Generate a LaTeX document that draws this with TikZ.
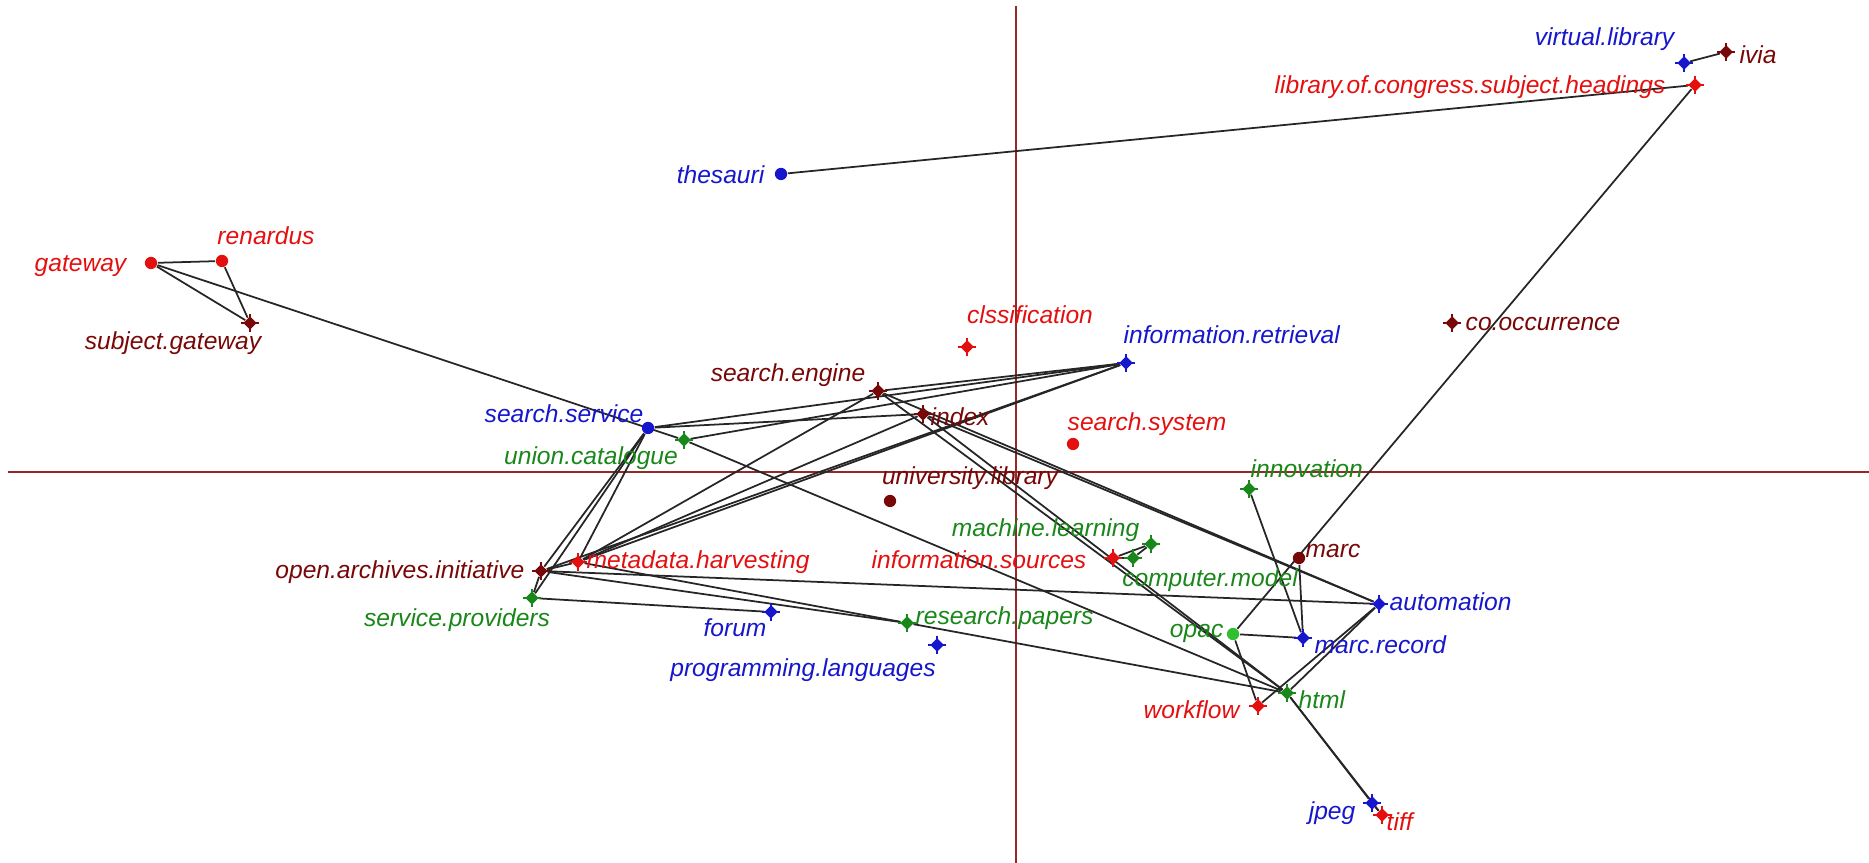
\documentclass[tikz,border=0pt]{standalone}
\usepackage{fontspec}
\setmainfont{Liberation Sans}
\usetikzlibrary{shapes.geometric, backgrounds}

\definecolor{ptred}{RGB}{228,16,16}
\definecolor{ptmaroon}{RGB}{120,8,8}
\definecolor{ptblue}{RGB}{22,22,205}
\definecolor{ptgreen}{RGB}{25,135,25}
\definecolor{ptlime}{RGB}{50,190,50}
\definecolor{axisred}{RGB}{150,40,40}

\begin{document}
\begin{tikzpicture}[x=0.1mm, y=-0.1mm,
  dot/.style={circle, fill=#1, inner sep=0pt, minimum size=3.5pt},
  dmd/.style={diamond, fill=#1, inner sep=0pt, minimum size=4pt},
  lbl/.style={text=#1, inner sep=0pt, font=\fontsize{7pt}{8pt}\selectfont\itshape},
  edge/.style={black!85, line width=0.5pt}]

\useasboundingbox (0,0) rectangle (1869,863);

% round points
\node[dot=ptblue] (thesauri) at (781,174) {};
\node[dot=ptred] (gateway) at (151,263) {};
\node[dot=ptred] (renardus) at (222,261) {};
\node[dot=ptblue] (searchservice) at (648,428) {};
\node[dot=ptred] (searchsystem) at (1073,444) {};
\node[dot=ptmaroon] (univlibrary) at (890,501) {};
\node[dot=ptmaroon] (marc) at (1299,558) {};
\node[dot=ptlime] (opac) at (1233,634) {};

% diamond points
\node[dmd=ptblue] (virtlibrary) at (1684,63) {};
\node[dmd=ptmaroon] (ivia) at (1726,52) {};
\node[dmd=ptred] (lcsh) at (1695,85) {};
\node[dmd=ptmaroon] (subjgateway) at (250,323) {};
\node[dmd=ptred] (clssification) at (967,347) {};
\node[dmd=ptblue] (inforetrieval) at (1126,363) {};
\node[dmd=ptmaroon] (cooccurrence) at (1452,323) {};
\node[dmd=ptmaroon] (searchengine) at (878,391) {};
\node[dmd=ptmaroon] (index) at (923,414) {};
\node[dmd=ptgreen] (unioncat) at (684,440) {};
\node[dmd=ptgreen] (innovation) at (1249,489) {};
\node[dmd=ptgreen] (machlearning) at (1151,544) {};
\node[dmd=ptred] (infosources) at (1113,558) {};
\node[dmd=ptgreen] (compmodel) at (1133,558) {};
\node[dmd=ptmaroon] (oai) at (541,571) {};
\node[dmd=ptred] (metaharvest) at (578,562) {};
\node[dmd=ptblue] (automation) at (1379,604) {};
\node[dmd=ptgreen] (serviceprov) at (532,598) {};
\node[dmd=ptblue] (forum) at (771,612) {};
\node[dmd=ptgreen] (respapers) at (907,623) {};
\node[dmd=ptblue] (proglang) at (937,645) {};
\node[dmd=ptblue] (marcrecord) at (1303,638) {};
\node[dmd=ptgreen] (html) at (1287,693) {};
\node[dmd=ptred] (workflow) at (1258,706) {};
\node[dmd=ptblue] (jpeg) at (1372,803) {};
\node[dmd=ptred] (tiff) at (1382,815) {};

% little cross on every diamond
\foreach \n/\c in {virtlibrary/ptblue, ivia/ptmaroon, lcsh/ptred, subjgateway/ptmaroon,
    clssification/ptred, inforetrieval/ptblue, cooccurrence/ptmaroon, searchengine/ptmaroon,
    index/ptmaroon, unioncat/ptgreen, innovation/ptgreen, machlearning/ptgreen,
    infosources/ptred, compmodel/ptgreen, oai/ptmaroon, metaharvest/ptred,
    automation/ptblue, serviceprov/ptgreen, forum/ptblue, respapers/ptgreen,
    proglang/ptblue, marcrecord/ptblue, html/ptgreen, workflow/ptred, jpeg/ptblue, tiff/ptred}
  \draw[\c, line width=0.6pt] ([xshift=-2.5pt]\n.center) -- ([xshift=2.5pt]\n.center)
    ([yshift=-2.5pt]\n.center) -- ([yshift=2.5pt]\n.center);

% labels
\node[lbl=ptblue, anchor=east] (thesauri-l) at (765,175) {thesauri};
\node[lbl=ptblue, anchor=east] (virtlibrary-l) at (1675,39) {virtual.library};
\node[lbl=ptmaroon, anchor=west] (ivia-l) at (1739,55) {ivia};
\node[lbl=ptred, anchor=east] (lcsh-l) at (1666,87) {library.of.congress.subject.headings};
\node[lbl=ptred, anchor=east] (gateway-l) at (127,266) {gateway};
\node[lbl=ptred] (renardus-l) at (266,236) {renardus};
\node[lbl=ptmaroon] (subjgateway-l) at (173,343) {subject.gateway};
\node[lbl=ptred] (clssification-l) at (1030,315) {clssification};
\node[lbl=ptblue, anchor=west] (inforetrieval-l) at (1123,335) {information.retrieval};
\node[lbl=ptmaroon, anchor=west] (cooccurrence-l) at (1465,324) {co.occurrence};
\node[lbl=ptmaroon, anchor=east] (searchengine-l) at (866,375) {search.engine};
\node[lbl=ptmaroon, anchor=west] (index-l) at (930,417) {index};
\node[lbl=ptblue, anchor=east] (searchservice-l) at (644,414) {search.service};
\node[lbl=ptgreen] (unioncat-l) at (591,458) {union.catalogue};
\node[lbl=ptred, anchor=west] (searchsystem-l) at (1067,424) {search.system};
\node[lbl=ptmaroon] (univlibrary-l) at (970,478) {university.library};
\node[lbl=ptgreen, anchor=west] (innovation-l) at (1250,469) {innovation};
\node[lbl=ptgreen, anchor=east] (machlearning-l) at (1140,530) {machine.learning};
\node[lbl=ptred, anchor=east] (infosources-l) at (1087,560) {information.sources};
\node[lbl=ptgreen] (compmodel-l) at (1210,580) {computer.model};
\node[lbl=ptmaroon, anchor=west] (marc-l) at (1305,551) {marc};
\node[lbl=ptmaroon, anchor=east] (oai-l) at (525,572) {open.archives.initiative};
\node[lbl=ptred, anchor=west] (metaharvest-l) at (586,562) {metadata.harvesting};
\node[lbl=ptblue, anchor=west] (automation-l) at (1389,602) {automation};
\node[lbl=ptgreen] (serviceprov-l) at (457,620) {service.providers};
\node[lbl=ptblue] (forum-l) at (735,628) {forum};
\node[lbl=ptgreen, anchor=west] (respapers-l) at (915,618) {research.papers};
\node[lbl=ptblue] (proglang-l) at (803,670) {programming.languages};
\node[lbl=ptgreen, anchor=east] (opac-l) at (1224,633) {opac};
\node[lbl=ptblue, anchor=west] (marcrecord-l) at (1314,645) {marc.record};
\node[lbl=ptgreen, anchor=west] (html-l) at (1298,700) {html};
\node[lbl=ptred, anchor=east] (workflow-l) at (1240,710) {workflow};
\node[lbl=ptblue, anchor=east] (jpeg-l) at (1356,813) {jpeg};
\node[lbl=ptred, anchor=west] (tiff-l) at (1386,822) {tiff};

\begin{scope}[on background layer]
  % axes through the origin
  \coordinate (ytop) at (1016,6);
  \coordinate (ybot) at (1016,863);
  \coordinate (xleft) at (8,472);
  \coordinate (xright) at (1869,472);
  \draw[axisred, line width=0.4pt] (ytop) -- (ybot);
  \draw[axisred, line width=0.4pt] (xleft) -- (xright);

  % links
  \draw[edge] (thesauri) -- (lcsh);
  \draw[edge] (virtlibrary) -- (ivia);
  \draw[edge] (lcsh) -- (opac);
  \draw[edge] (gateway) -- (renardus);
  \draw[edge] (gateway) -- (subjgateway);
  \draw[edge] (renardus) -- (subjgateway);
  \draw[edge] (gateway) -- (unioncat);
  \draw[edge] (unioncat) -- (html);
  \draw[edge] (searchservice) -- (inforetrieval);
  \draw[edge] (searchservice) -- (index);
  \draw[edge] (unioncat) -- (inforetrieval);
  \draw[edge] (searchengine) -- (inforetrieval);
  \draw[edge] (oai) -- (searchservice);
  \draw[edge] (serviceprov) -- (searchservice);
  \draw[edge] (metaharvest) -- (searchservice);
  \draw[edge] (oai) -- (metaharvest);
  \draw[edge] (oai) -- (serviceprov);
  \draw[edge] (metaharvest) -- (searchengine);
  \draw[edge] (metaharvest) -- (index);
  \draw[edge] (metaharvest) -- (inforetrieval);
  \draw[edge] (oai) -- (inforetrieval);
  \draw[edge] (searchengine) -- (html);
  \draw[edge] (index) -- (html);
  \draw[edge] (searchengine) -- (automation);
  \draw[edge] (index) -- (automation);
  \draw[edge] (html) -- (jpeg);
  \draw[edge] (html) -- (tiff);
  \draw[edge] (jpeg) -- (tiff);
  \draw[edge] (infosources) -- (machlearning);
  \draw[edge] (compmodel) -- (machlearning);
  \draw[edge] (infosources) -- (compmodel);
  \draw[edge] (innovation) -- (marcrecord);
  \draw[edge] (marc) -- (marcrecord);
  \draw[edge] (opac) -- (marcrecord);
  \draw[edge] (opac) -- (workflow);
  \draw[edge] (automation) -- (html);
  \draw[edge] (automation) -- (workflow);
  \draw[edge] (oai) -- (automation);
  \draw[edge] (oai) -- (respapers);
  \draw[edge] (metaharvest) -- (respapers);
  \draw[edge] (respapers) -- (html);
  \draw[edge] (serviceprov) -- (forum);
\end{scope}
\end{tikzpicture}
\end{document}
